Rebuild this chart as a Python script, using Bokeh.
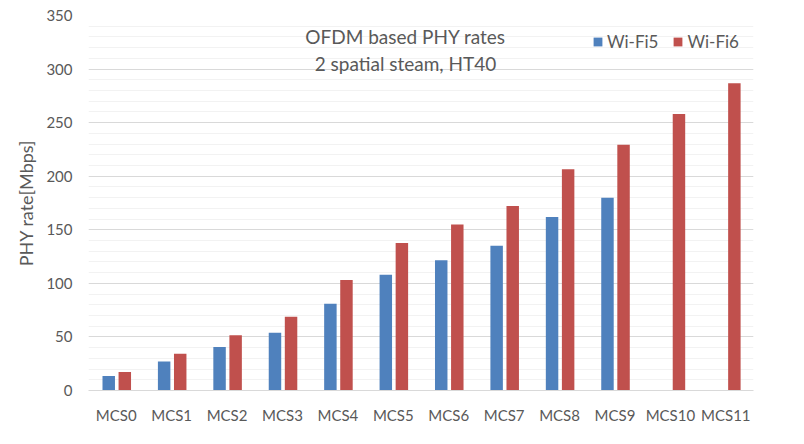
from bokeh.plotting import figure
from bokeh.models import ColumnDataSource, FactorRange, Range1d, Legend, LegendItem, Label, SingleIntervalTicker
from bokeh.transform import dodge
from bokeh.embed import file_html
from bokeh.resources import INLINE

categories = ["MCS0", "MCS1", "MCS2", "MCS3", "MCS4", "MCS5", "MCS6", "MCS7", "MCS8", "MCS9", "MCS10", "MCS11"]
wifi5 = [13.5, 27, 40.5, 54, 81, 108, 121.5, 135, 162, 180, 0, 0]
wifi6 = [17.2, 34.4, 51.6, 68.8, 103.2, 137.6, 154.9, 172.1, 206.5, 229.4, 258.1, 286.8]
title_lines = ["OFDM based PHY rates", "2 spatial steam, HT40"]
y_label = "PHY rate[Mbps]"

FONT = "Lato"
TXT = "#595959"

src5 = ColumnDataSource(dict(cat=categories[:10], v=wifi5[:10]))
src6 = ColumnDataSource(dict(cat=categories, v=wifi6))

p = figure(width=788, height=428, x_range=FactorRange(*categories, range_padding=0),
           y_range=Range1d(0, 350), output_backend="svg", toolbar_location=None,
           min_border_left=88, min_border_right=35, min_border_top=15, min_border_bottom=38)
p.outline_line_color = None

r5 = p.vbar(x=dodge("cat", -0.135, range=p.x_range), top="v", width=0.225, source=src5,
            color="#4F81BD", line_color=None)
r6 = p.vbar(x=dodge("cat", 0.155, range=p.x_range), top="v", width=0.225, source=src6,
            color="#C0504D", line_color=None)

p.yaxis.ticker = SingleIntervalTicker(interval=50, num_minor_ticks=5)
p.ygrid.grid_line_color = "#D9D9D9"
p.ygrid.minor_grid_line_color = "#F2F2F2"
p.xgrid.grid_line_color = None

for ax in (p.xaxis, p.yaxis):
    ax.major_tick_line_color = None
    ax.minor_tick_line_color = None
    ax.major_tick_out = 0
    ax.minor_tick_out = 0
    ax.major_label_text_font = FONT
    ax.major_label_text_font_size = "15px"
    ax.major_label_text_color = TXT
    ax.axis_label_text_font = FONT
    ax.axis_label_text_color = TXT
p.yaxis.axis_line_color = None
p.xaxis.axis_line_color = "#D9D9D9"
p.xaxis.major_label_standoff = 15
p.yaxis.major_label_standoff = 16
p.yaxis.axis_label = y_label
p.yaxis.axis_label_text_font_size = "18px"
p.yaxis.axis_label_text_font_style = "normal"
p.yaxis.axis_label_standoff = 6

for i, (t, yv) in enumerate(zip(title_lines, [330, 305.6])):
    p.add_layout(Label(x=5.72, y=yv, text=t, text_align="center", text_baseline="middle",
                       text_font=FONT, text_font_size="19px", text_color=TXT))

legend = Legend(items=[LegendItem(label="Wi-Fi5", renderers=[r5]), LegendItem(label="Wi-Fi6", renderers=[r6])],
                orientation="horizontal", location=(504, 338),
                border_line_color=None, background_fill_alpha=0,
                label_text_font=FONT, label_text_font_size="17px", label_text_color=TXT,
                glyph_width=11, glyph_height=11, label_standoff=4, spacing=14,
                margin=0, padding=4)
p.add_layout(legend)

open("out.html", "w").write(file_html(p, INLINE))
